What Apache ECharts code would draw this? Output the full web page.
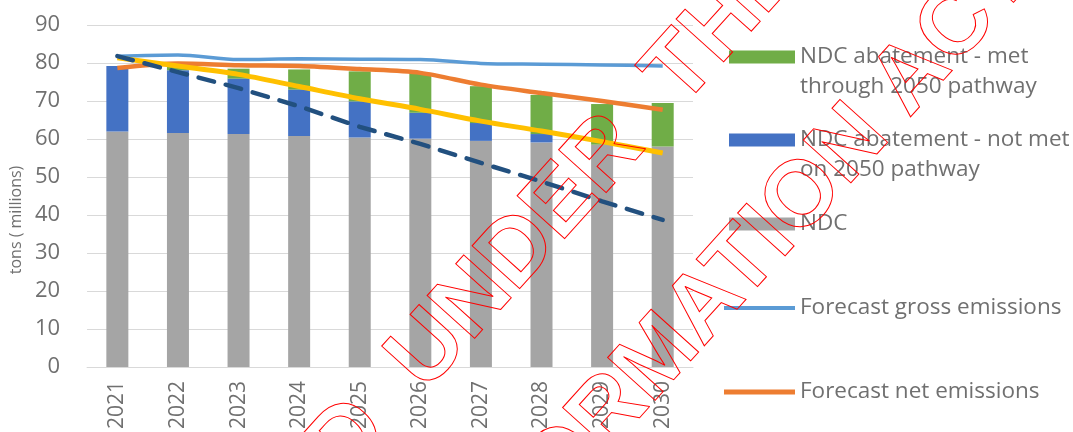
<!DOCTYPE html>
<html>
<head>
<meta charset="utf-8">
<script src="https://cdn.jsdelivr.net/npm/echarts@6/dist/echarts.min.js"></script>
<style>
  html, body { margin: 0; padding: 0; background: #fff; }
  #chart { width: 1073px; height: 432px; }
</style>
</head>
<body>
<div id="chart"></div>
<script>
// values (tons, millions)
var years = ["2021", "2022", "2023", "2024", "2025", "2026", "2027", "2028", "2029", "2030"];
var ndc = [62.0, 61.6, 61.3, 60.8, 60.4, 60.1, 59.5, 59.1, 58.5, 58.0];
var notMet = [17.2, 16.5, 14.6, 12.2, 9.5, 6.8, 4.7, 2.2, 0, 0];
var met = [0, 1.3, 2.6, 5.3, 7.9, 10.4, 9.7, 10.3, 10.7, 11.5];
var gross = [81.8, 82.1, 80.9, 81.1, 81.0, 80.9, 79.9, 79.7, 79.5, 79.2];
var net = [78.7, 79.9, 79.4, 79.2, 78.4, 77.4, 74.3, 72.1, 70.0, 67.7];
var pathway2050 = [81.4, 79.2, 77.0, 73.8, 70.6, 67.8, 64.7, 62.1, 59.3, 56.3];
var ndcPathway = [81.8, 77.6, 73.4, 68.6, 63.2, 58.7, 53.7, 48.8, 43.6, 38.7];
var yTicks = [0, 90, 10];

var font = "Open Sans";
var txt = "#707070";

// one legend per entry so each can sit where it does in the picture
// (blank first line keeps the symbol level with the first text line)
function legendItem(name, top, kind, h) {
  var isLine = kind === "line";
  return {
    data: [name],
    orient: "vertical",
    left: isLine ? 724 : 729,
    top: top,
    padding: 0,
    itemWidth: isLine ? 71 : 66,
    itemHeight: h || 13,
    icon: "rect",
    formatter: function (n) {
      if (n.indexOf("met through") > 0) return " \nNDC abatement - met\nthrough 2050 pathway";
      if (n.indexOf("not met on") > 0) return " \nNDC abatement - not met\non 2050 pathway";
      return n;
    },
    textStyle: {
      fontFamily: font,
      fontSize: 22.5,
      color: txt,
      lineHeight: 30,
    },
    selectedMode: false,
  };
}

var chart = echarts.init(document.getElementById("chart"), null, { renderer: "canvas" });
var option = {
  animation: false,
  backgroundColor: "#fff",
  grid: { left: 82, right: 380, top: 25, bottom: 65 },
  legend: [
    legendItem("NDC abatement - met through 2050 pathway", 12, "bar"),
    legendItem("NDC abatement - not met on 2050 pathway", 95, "bar"),
    legendItem("NDC", 209, "bar"),
    legendItem("Forecast gross emissions", 293, "line", 4),
    legendItem("Forecast net emissions", 377, "line", 5),
  ],
  xAxis: {
    type: "category",
    data: years,
    axisLine: { lineStyle: { color: "#d9d9d9", width: 1 } },
    axisTick: { show: false },
    axisLabel: {
      rotate: 90,
      margin: 14,
      fontFamily: font,
      fontSize: 21,
      color: txt,
    },
  },
  yAxis: {
    type: "value",
    min: yTicks[0],
    max: yTicks[1],
    interval: yTicks[2],
    name: "tons ( millions)",
    nameLocation: "middle",
    nameRotate: 90,
    nameGap: 63,
    nameTextStyle: { fontFamily: font, fontSize: 16, color: txt, padding: [0, 48, 0, 0] },
    axisLine: { show: false },
    axisTick: { show: false },
    splitLine: { lineStyle: { color: "#d9d9d9", width: 1 } },
    axisLabel: { margin: 27, fontFamily: font, fontSize: 22, color: txt },
  },
  series: [
    {
      name: "NDC",
      type: "bar",
      stack: "t",
      barWidth: 22,
      data: ndc,
      itemStyle: { color: "#a5a5a5" },
    },
    {
      name: "NDC abatement - not met on 2050 pathway",
      type: "bar",
      stack: "t",
      data: notMet,
      itemStyle: { color: "#4472c4" },
    },
    {
      name: "NDC abatement - met through 2050 pathway",
      type: "bar",
      stack: "t",
      data: met,
      itemStyle: { color: "#70ad47" },
    },
    {
      name: "Forecast gross emissions",
      type: "line",
      data: gross,
      symbol: "none",
      smooth: 0.3,
      lineStyle: { color: "#5b9bd5", width: 3.5 },
      itemStyle: { color: "#5b9bd5" },
    },
    {
      name: "Forecast net emissions",
      type: "line",
      data: net,
      symbol: "none",
      smooth: 0.3,
      lineStyle: { color: "#ed7d31", width: 4.5 },
      itemStyle: { color: "#ed7d31" },
    },
    {
      name: "2050 pathway",
      type: "line",
      data: pathway2050,
      symbol: "none",
      smooth: 0.3,
      lineStyle: { color: "#ffc000", width: 5 },
      itemStyle: { color: "#ffc000" },
    },
    {
      name: "NDC pathway",
      type: "line",
      data: ndcPathway,
      symbol: "none",
      lineStyle: { color: "#22507f", width: 4.5, type: [16, 12], cap: "round" },
      itemStyle: { color: "#22507f" },
    },
  ],
  // outlined release stamp lying across the chart
  graphic: [
    {
      type: "text",
      x: 410,
      y: 372,
      rotation: (48 * Math.PI) / 180,
      z: 100,
      style: {
        text: "RELEASED  UNDER  THE",
        font: 'bold 93px "Liberation Sans"',
        fill: "none",
        stroke: "#ff0000",
        lineWidth: 1,
        align: "center",
        verticalAlign: "middle",
      },
    },
    {
      type: "text",
      x: 576,
      y: 450,
      rotation: (48 * Math.PI) / 180,
      z: 100,
      style: {
        text: "OFFICIAL INFORMATION ACT",
        font: 'bold 93px "Liberation Sans"',
        fill: "none",
        stroke: "#ff0000",
        lineWidth: 1,
        align: "center",
        verticalAlign: "middle",
      },
    },
  ],
};
chart.setOption(option);
</script>
</body>
</html>
